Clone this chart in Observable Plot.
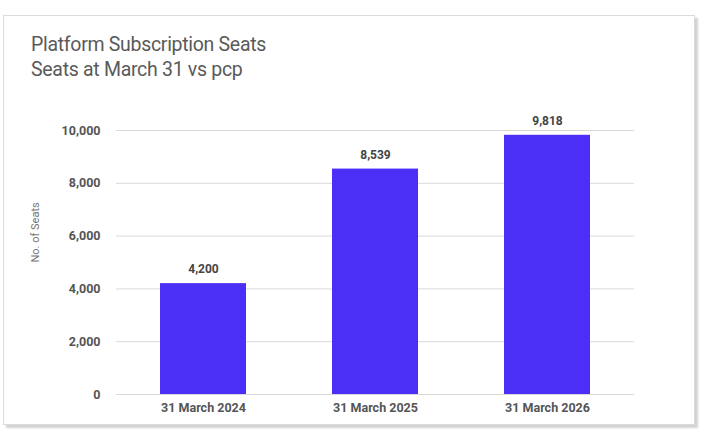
<!DOCTYPE html>
<html>
<head>
<meta charset="utf-8">
<script src="https://cdn.jsdelivr.net/npm/d3@7"></script>
<script src="https://cdn.jsdelivr.net/npm/@observablehq/plot@0.6"></script>
<style>
  html, body { margin: 0; padding: 0; background: #fff; }
  #wrap { position: relative; width: 702px; height: 435px; overflow: hidden; background: #fff; }
  #card { position: absolute; left: 3px; top: 15px; width: 690px; height: 408px; border: 1px solid #dcdcdc; box-shadow: 3px 3px 2px rgba(0,0,0,0.18); background: #fff; }
  #title { position: absolute; left: 31px; top: 32px; font-family: Roboto, "Noto Sans", sans-serif; font-size: 19.5px; line-height: 25px; color: #5a5a5a; letter-spacing: -0.3px; }
  #chart { position: absolute; left: 0; top: 0; }
</style>
</head>
<body>
<div id="wrap">
  <div id="card"></div>
  <div id="title">Platform Subscription Seats<br>Seats at March 31 vs pcp</div>
  <div id="chart"></div>
</div>
<script>
const categories = ["31 March 2024", "31 March 2025", "31 March 2026"];
const seats = [4200, 8539, 9818];
const yTicks = [0, 2000, 4000, 6000, 8000, 10000];
const yLabel = "No. of Seats";

const data = categories.map((c, i) => ({category: c, value: seats[i]}));
const fmt = d3.format(",");

const chart = Plot.plot({
  width: 702,
  height: 435,
  marginLeft: 116,
  marginRight: 68,
  marginTop: 130,
  marginBottom: 41,
  style: {fontFamily: "Roboto, 'Noto Sans', sans-serif", background: "transparent", overflow: "visible"},
  x: {domain: categories, paddingInner: 0.5, paddingOuter: 0.25, label: null},
  y: {domain: [0, 10000], label: null},
  marks: [
    Plot.gridY(yTicks, {stroke: "#d9d9d9", strokeOpacity: 1, strokeWidth: 1}),
    Plot.barY(data, {x: "category", y: "value", fill: "#4b2ff7"}),
    Plot.text(data, {x: "category", y: "value", text: d => fmt(d.value), dy: -14, fontSize: 12, fontWeight: "bold", fill: "#444"}),
    Plot.axisY({ticks: yTicks, tickFormat: fmt, tickSize: 0, tickPadding: 16, fontSize: 12.5, fontWeight: "bold", color: "#555", label: null}),
    Plot.axisX({tickSize: 0, tickPadding: 9, fontSize: 12.5, fontWeight: "bold", color: "#555", label: null}),
    Plot.text([yLabel], {frameAnchor: "left", dx: -81, rotate: -90, text: d => d, fontSize: 11, fill: "#777"})
  ]
});
document.getElementById("chart").appendChild(chart);
</script>
</body>
</html>
